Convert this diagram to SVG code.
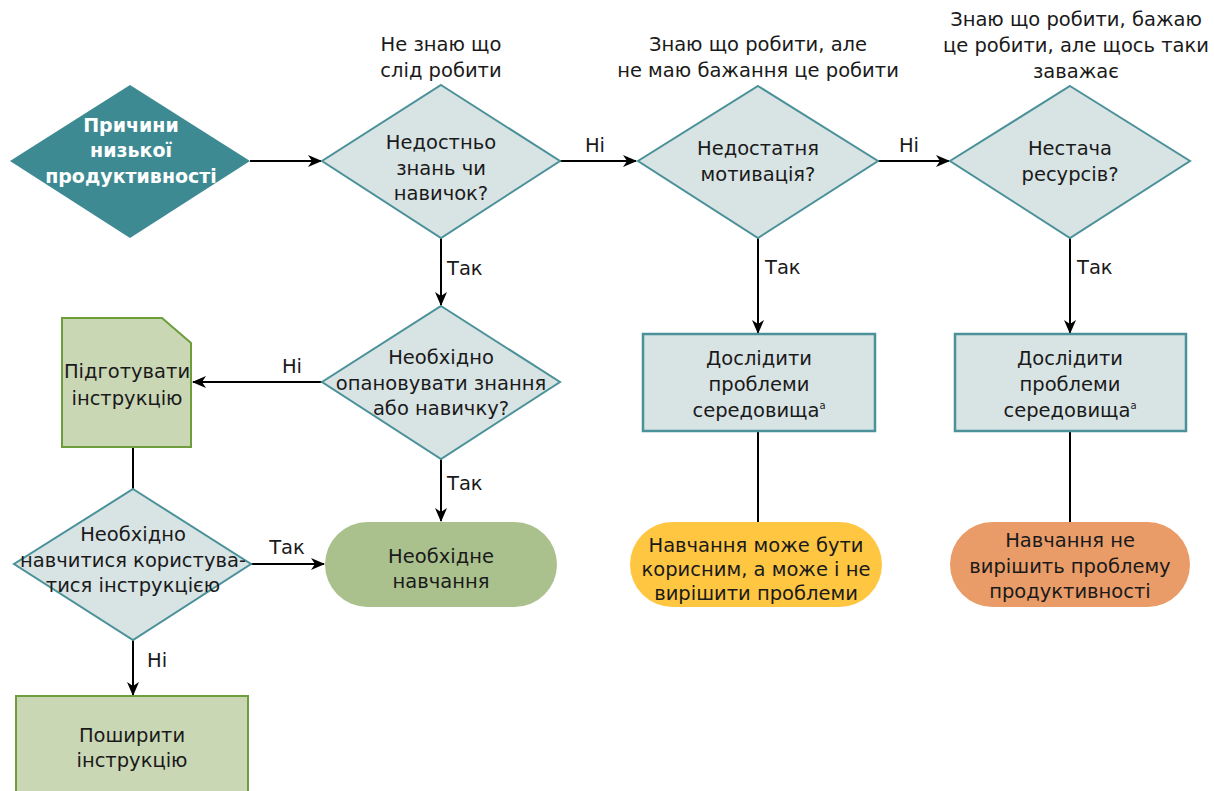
<svg xmlns="http://www.w3.org/2000/svg" width="1214" height="791" viewBox="0 0 1214 791">
<defs>
<marker id="ah" markerWidth="14" markerHeight="12" refX="13" refY="6" orient="auto" markerUnits="userSpaceOnUse">
<path d="M0,0 L14,6 L0,12 L4,6 z" fill="#000"/>
</marker>
<style>
text{font-family:"DejaVu Sans","Noto Sans",sans-serif;font-size:19.5px;fill:#1a1a1a;text-anchor:middle}
.lbl{text-anchor:start}
.lc{text-anchor:middle}
.start text{fill:#fff;font-weight:bold;font-size:19px}
.dia{fill:#D8E3E4;stroke:#4A9199;stroke-width:2}
.box{fill:#D8E3E4;stroke:#4A9199;stroke-width:2.5}
.gdoc{fill:#C9D7B5;stroke:#6E9E3C;stroke-width:2}
.con line{stroke:#000;stroke-width:2}
.sup{font-size:10px}
</style>
</defs>
<rect width="1214" height="791" fill="#fff"/>

<g id="labels-top">
<text x="441" y="51">Не знаю що</text>
<text x="441" y="77">слід робити</text>
<text x="758" y="51">Знаю що робити, але</text>
<text x="758" y="77">не маю бажання це робити</text>
<text x="1076" y="26">Знаю що робити, бажаю</text>
<text x="1076" y="52">це робити, але щось таки</text>
<text x="1076" y="78">заважає</text>
</g>

<g id="connectors" class="con">
<line x1="250" y1="161" x2="321" y2="161" marker-end="url(#ah)"/>
<line x1="560" y1="161" x2="636" y2="161" marker-end="url(#ah)"/>
<line x1="878" y1="161" x2="949" y2="161" marker-end="url(#ah)"/>
<line x1="441" y1="238" x2="441" y2="305" marker-end="url(#ah)"/>
<line x1="758" y1="238" x2="758" y2="333" marker-end="url(#ah)"/>
<line x1="1070" y1="238" x2="1070" y2="333" marker-end="url(#ah)"/>
<line x1="322" y1="382" x2="193" y2="382" marker-end="url(#ah)"/>
<line x1="441" y1="459" x2="441" y2="521" marker-end="url(#ah)"/>
<line x1="133" y1="447" x2="133" y2="489"/>
<line x1="250" y1="564" x2="324" y2="564" marker-end="url(#ah)"/>
<line x1="133" y1="640" x2="133" y2="695" marker-end="url(#ah)"/>
<line x1="758" y1="431" x2="758" y2="522"/>
<line x1="1070" y1="431" x2="1070" y2="522"/>
<text class="lc" x="595" y="152">Ні</text>
<text class="lc" x="909" y="152">Ні</text>
<text class="lbl" x="447" y="275">Так</text>
<text class="lbl" x="765" y="274">Так</text>
<text class="lbl" x="1077" y="274">Так</text>
<text class="lc" x="292" y="373">Ні</text>
<text class="lbl" x="447" y="490">Так</text>
<text class="lc" x="287" y="554">Так</text>
<text class="lbl" x="147" y="667">Ні</text>
</g>

<g id="start" class="start">
<polygon points="130,85 250,161 130,238 10,161" fill="#3E8A92"/>
<text x="131" y="132">Причини</text>
<text x="131" y="157">низької</text>
<text x="131" y="183">продуктивності</text>
</g>

<g id="q1">
<polygon class="dia" points="441,85 560,161 441,238 322,161"/>
<text x="441" y="149">Недостньо</text>
<text x="441" y="175">знань чи</text>
<text x="441" y="200">навичок?</text>
</g>

<g id="q2">
<polygon class="dia" points="758,86 878,161 758,238 638,161"/>
<text x="758" y="155">Недостатня</text>
<text x="758" y="181">мотивація?</text>
</g>

<g id="q3">
<polygon class="dia" points="1070,86 1190,161 1070,238 950,161"/>
<text x="1070" y="155">Нестача</text>
<text x="1070" y="181">ресурсів?</text>
</g>

<g id="q4">
<polygon class="dia" points="441,306 560,382 441,459 322,382"/>
<text x="441" y="364">Необхідно</text>
<text x="441" y="390">опановувати знання</text>
<text x="441" y="415">або навичку?</text>
</g>

<g id="prep">
<polygon class="gdoc" points="62,318 162,318 191,343 191,447 62,447"/>
<text x="127" y="378">Підготувати</text>
<text x="127" y="405">інструкцію</text>
</g>

<g id="q5">
<polygon class="dia" points="133,489 251,564 133,640 14,564"/>
<text x="133" y="541">Необхідно</text>
<text x="133" y="567">навчитися користува-</text>
<text x="133" y="592">тися інструкцією</text>
</g>

<g id="train">
<rect x="325" y="522" width="232" height="85" rx="42.5" fill="#AAC18D"/>
<text x="441" y="563">Необхідне</text>
<text x="441" y="588">навчання</text>
</g>

<g id="spread">
<rect class="gdoc" x="16" y="696" width="232" height="100"/>
<text x="132" y="742">Поширити</text>
<text x="132" y="767">інструкцію</text>
</g>

<g id="env1">
<rect class="box" x="643" y="334" width="232" height="97"/>
<text x="759" y="365">Дослідити</text>
<text x="759" y="391">проблеми</text>
<text x="759" y="417">середовища<tspan class="sup" dy="-8">а</tspan></text>
</g>

<g id="env2">
<rect class="box" x="955" y="334" width="231" height="97"/>
<text x="1070" y="365">Дослідити</text>
<text x="1070" y="391">проблеми</text>
<text x="1070" y="417">середовища<tspan class="sup" dy="-8">а</tspan></text>
</g>

<g id="maybe">
<rect x="630" y="522" width="252" height="85" rx="42.5" fill="#FEC641"/>
<text x="756" y="552">Навчання може бути</text>
<text x="756" y="576">корисним, а може і не</text>
<text x="756" y="600">вирішити проблеми</text>
</g>

<g id="no">
<rect x="950" y="522" width="240" height="85" rx="42.5" fill="#E99C68"/>
<text x="1070" y="547">Навчання не</text>
<text x="1070" y="573">вирішить проблему</text>
<text x="1070" y="598">продуктивності</text>
</g>
</svg>
